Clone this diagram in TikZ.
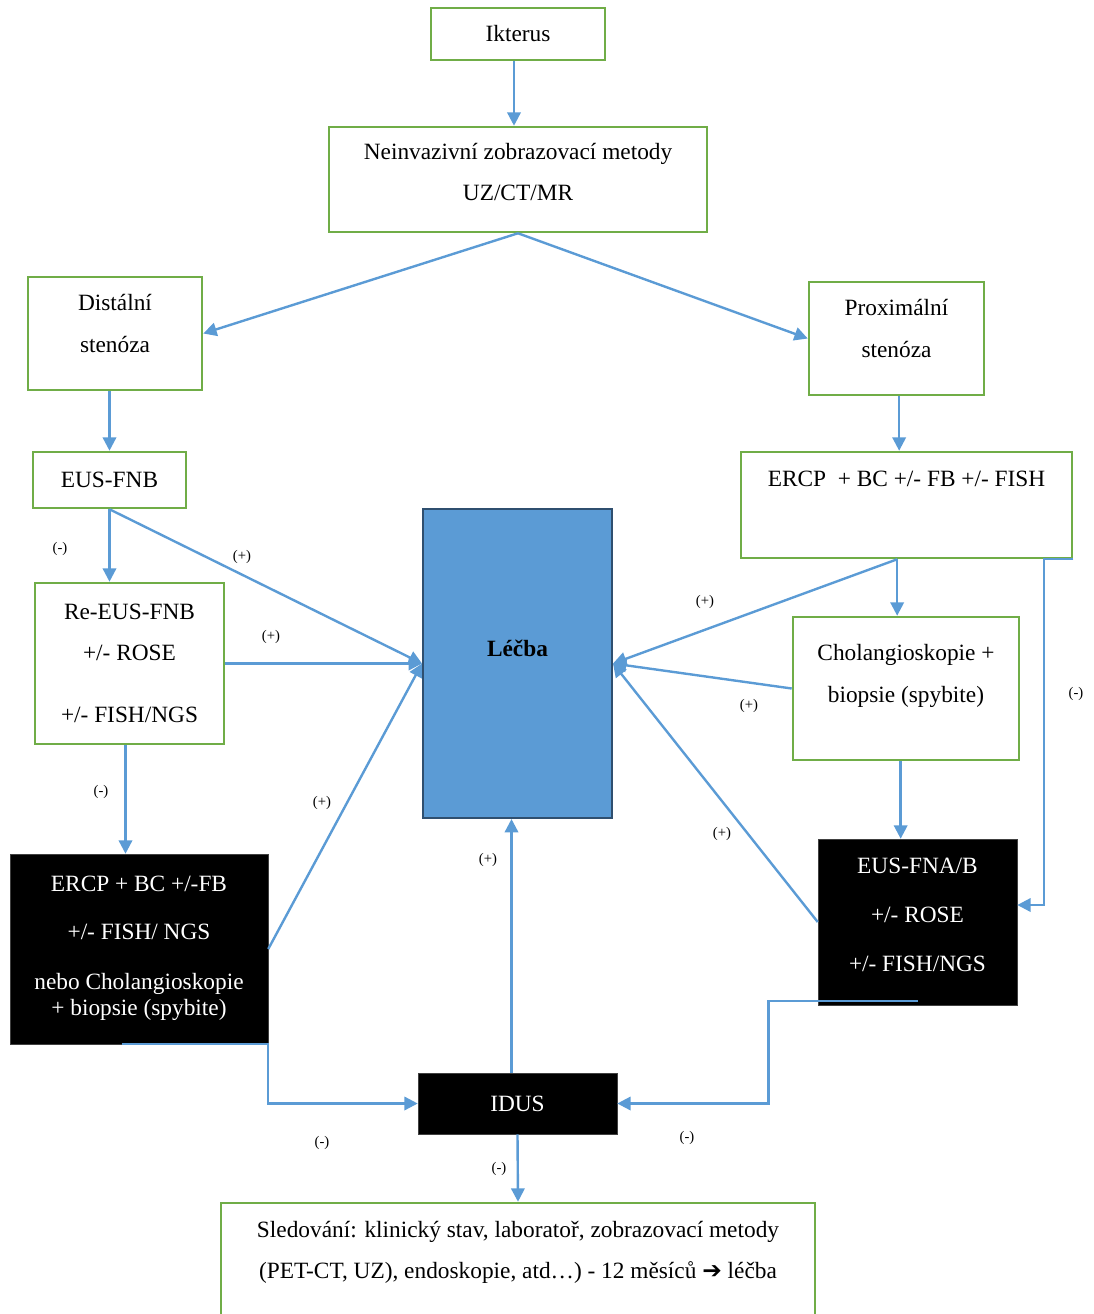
\documentclass[tikz,border=0pt]{standalone}
\usepackage{fontspec}
\setmainfont{Liberation Serif}
\newfontfamily\symfont{DejaVu Sans}
\usetikzlibrary{arrows.meta}
\definecolor{boxgreen}{HTML}{70AD47}
\definecolor{arrowblue}{HTML}{5B9BD5}
\definecolor{navy}{HTML}{2F4F6F}

\begin{document}
\begin{tikzpicture}[x=0.75pt,y=-0.75pt,>={Triangle[length=10pt,width=10pt]},
box/.style={draw=boxgreen,line width=1.9pt,align=center,font=\fontsize{17.5}{31}\selectfont},
blackbox/.style={draw=black!75,fill=black,text=white,align=center,font=\fontsize{17.5}{31}\selectfont},
arrow/.style={->,draw=arrowblue,line width=1.8pt},
lbl/.style={font=\fontsize{11}{13}\selectfont,inner sep=0pt}]
\useasboundingbox (0,0) rectangle (1094,1314);
% boxes
\node[box,minimum width=130.5pt,minimum height=39pt] (ikterus) at (518,34) {Ikterus};
\node[box,minimum width=283.5pt,minimum height=78.75pt] (neinv) at (518,179.5) {Neinvazivní zobrazovací metody\\UZ/CT/MR\\[-20pt]\mbox{}};
\node[box,minimum width=130.5pt,minimum height=84.75pt] (distal) at (115,333.5) {Distální\\stenóza\\[-16pt]\mbox{}};
\node[box,minimum width=131.25pt,minimum height=84.75pt] (proximal) at (896.5,338.5) {Proximální\\stenóza\\[-16pt]\mbox{}};
\node[box,minimum width=114.75pt,minimum height=42pt] (eusfnb) at (109.5,480) {EUS-FNB};
\node[box,minimum width=248.25pt,minimum height=79.5pt] (ercp) at (906.5,505) {ERCP\ \ + BC +/- FB +/- FISH\\[9pt]\mbox{}};
\node[draw=navy,fill=arrowblue,line width=1.5pt,align=center,font=\fontsize{17.5}{31}\selectfont,minimum width=141.75pt,minimum height=231.75pt] (lecba) at (517.5,663.5) {\textbf{Léčba}\\[-8.5pt]\mbox{}};
\node[box,minimum width=141.75pt,minimum height=120.75pt] (reeus) at (129.5,663.5) {Re-EUS-FNB\\+/- ROSE\\[15.5pt]+/- FISH/NGS};
\node[box,minimum width=169.5pt,minimum height=107.25pt] (cholang) at (906,688.5) {Cholangioskopie +\\biopsie (spybite)\\[-8.5pt]\mbox{}};
\node[blackbox,minimum width=193.5pt,minimum height=142.5pt] (ercpblack) at (139,949) {ERCP + BC +/-FB\\[5pt]+/- FISH/ NGS\\[6.5pt]nebo Cholangioskopie\\[-11pt]+ biopsie (spybite)\\[-26pt]\mbox{}};
\node[blackbox,minimum width=149.25pt,minimum height=124.5pt] (eusfna) at (917.5,922) {EUS-FNA/B\\[6pt]+/- ROSE\\[6pt]+/- FISH/NGS\\[-20pt]\mbox{}};
\node[blackbox,minimum width=149.25pt,minimum height=45.75pt] (idus) at (517.5,1103.5) {IDUS};
\node[box,minimum width=445.5pt,minimum height=105pt] (sledovani) at (518,1273) {Sledování: klinický stav, laboratoř, zobrazovací metody\\(PET-CT, UZ), endoskopie, atd…) - 12 měsíců {\symfont\bfseries ➔} léčba\\[4pt]\mbox{}};
% labels
\node[lbl] (neg1) at (60,549) {(-)};
\node[lbl] (pos1) at (242,557) {(+)};
\node[lbl] (pos2) at (271,637) {(+)};
\node[lbl] (neg2) at (101,792) {(-)};
\node[lbl] (pos3) at (322,803) {(+)};
\node[lbl] (pos4) at (488,860) {(+)};
\node[lbl] (pos5) at (705,602) {(+)};
\node[lbl] (pos6) at (749,706) {(+)};
\node[lbl] (pos7) at (722,834) {(+)};
\node[lbl] (neg3) at (1076,694) {(-)};
\node[lbl] (neg4) at (322,1143) {(-)};
\node[lbl] (neg5) at (687,1138) {(-)};
\node[lbl] (neg6) at (499,1169) {(-)};
% connectors
\draw[arrow] ([xshift=-3pt]ikterus.south) -- ([xshift=-3pt]neinv.north);
\draw[arrow] (neinv.south) -- (distal.east); \draw[arrow] (neinv.south) -- (proximal.west);
\draw[arrow] (distal.south -| eusfnb.north) -- (eusfnb.north);
\draw[arrow] ([xshift=2pt]proximal.south) -- ([xshift=2pt]proximal.south |- ercp.north);
\draw[arrow] (eusfnb.south) -- (eusfnb.south |- reeus.north); \draw[arrow] (eusfnb.south) -- (lecba.west);
\draw[arrow] (reeus.east) -- (lecba.west);
\draw[arrow] ([xshift=-3pt]reeus.south) -- ([xshift=-3pt]reeus.south |- ercpblack.north);
\draw[arrow] (ercpblack.east) -- (lecba.west);
\draw[arrow] ([xshift=-7pt]ercp.south) -- (lecba.east); \draw[arrow] ([xshift=-7pt]ercp.south) -- ([xshift=-7pt]ercp.south |- cholang.north);
\draw[arrow] (cholang.west) -- (lecba.east); \draw[arrow] (eusfna.west) -- (lecba.east);
\draw[arrow] ([xshift=-4pt]cholang.south) -- ([xshift=-4pt]cholang.south |- eusfna.north);
\draw[arrow] (ercp.south east) -- ++(-29,0) |- ([yshift=12.75pt]eusfna.east);
\draw[arrow] ([xshift=-13pt]ercpblack.south) -- (ercpblack.south east) |- (idus.west);
\draw[arrow] ([yshift=3pt]eusfna.south) -- ++(-149,0) |- (idus.east);
\draw[arrow] ([xshift=-4.5pt]idus.north) -- ([xshift=-4.5pt]lecba.south);
\draw[arrow] (idus.south) -- (sledovani.north);
\end{tikzpicture}
\end{document}
